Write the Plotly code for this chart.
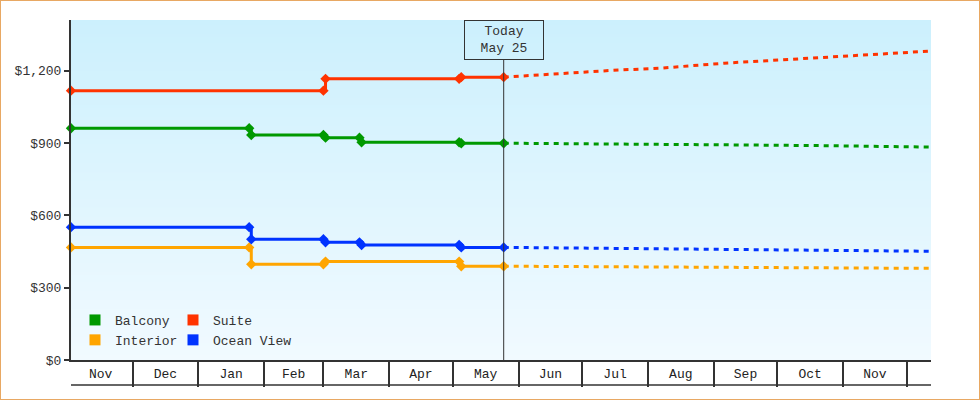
import base64
import struct
import zlib
from datetime import datetime

import plotly.graph_objects as go

# ---------------- data ----------------
series_names = ["Balcony", "Suite", "Interior", "Ocean View"]
series_colors = ["#009900", "#ff3300", "#ffa500", "#0033ff"]

balcony_dates = ["2024-11-02", "2025-01-25", "2025-01-26", "2025-03-01", "2025-03-02",
                 "2025-03-18", "2025-03-19", "2025-05-04", "2025-05-05", "2025-05-25"]
balcony_prices = [961, 961, 933, 933, 922, 922, 903, 903, 899, 899]

suite_dates = ["2024-11-02", "2025-03-01", "2025-03-02", "2025-05-04", "2025-05-05", "2025-05-25"]
suite_prices = [1117, 1117, 1166, 1166, 1173, 1173]

interior_dates = ["2024-11-02", "2025-01-25", "2025-01-26", "2025-03-01", "2025-03-02",
                  "2025-05-04", "2025-05-05", "2025-05-25"]
interior_prices = [467, 467, 397, 397, 408, 408, 389, 389]

ocean_dates = ["2024-11-02", "2025-01-25", "2025-01-26", "2025-03-01", "2025-03-02",
               "2025-03-18", "2025-03-19", "2025-05-04", "2025-05-05", "2025-05-25"]
ocean_prices = [551, 551, 501, 501, 488, 488, 477, 477, 467, 467]

forecast_dates = ["2025-05-25", "2025-06-19", "2025-07-15", "2025-08-08", "2025-09-06",
                  "2025-09-26", "2025-10-22", "2025-11-16", "2025-12-12"]
balcony_forecast = [899, 898, 896, 894, 892, 891, 889, 887, 883]
suite_forecast = [1173, 1187, 1201, 1211, 1231, 1241, 1255, 1266, 1281]
interior_forecast = [389, 388, 386, 385, 384, 383, 382, 381, 380]
ocean_forecast = [467, 465, 462, 460, 458, 456, 455, 453, 451]

today = "2025-05-25"
x_range = ["2024-11-02", "2025-12-12 11:00"]
y_tick_step = 300
y_max = 1410

history = [
    (balcony_dates, balcony_prices, balcony_forecast),
    (suite_dates, suite_prices, suite_forecast),
    (interior_dates, interior_prices, interior_forecast),
    (ocean_dates, ocean_prices, ocean_forecast),
]
legend_of = {"Balcony": "legend", "Interior": "legend", "Suite": "legend2", "Ocean View": "legend2"}

# ---------------- geometry / style ----------------
W, H = 980, 400
ML, MR, MT, MB = 71, 49, 20, 40
PW, PH = W - ML - MR, H - MT - MB
FONT = "Liberation Mono"
INK = "#333333"


def gradient_png(top, bottom, h, w=4):
    raw = b""
    for i in range(h):
        t = i / (h - 1)
        px = bytes(round(a + (b - a) * t) for a, b in zip(top, bottom))
        raw += b"\x00" + px * w

    def chunk(tag, data):
        return struct.pack(">I", len(data)) + tag + data + struct.pack(">I", zlib.crc32(tag + data) & 0xFFFFFFFF)

    png = b"\x89PNG\r\n\x1a\n"
    png += chunk(b"IHDR", struct.pack(">IIBBBBB", w, h, 8, 2, 0, 0, 0))
    png += chunk(b"IDAT", zlib.compress(raw, 9))
    png += chunk(b"IEND", b"")
    return "data:image/png;base64," + base64.b64encode(png).decode()


fig = go.Figure()

for name, color, (d, p, fc) in zip(series_names, series_colors, history):
    fig.add_trace(go.Scatter(
        x=d, y=p, mode="lines+markers", line=dict(color=color, width=3, shape="hv"),
        marker=dict(symbol="diamond", size=8, color=color),
        name=name, legendgroup=name, showlegend=False, cliponaxis=False,
        hovertemplate="%{x|%b %d}: $%{y:,}<extra>" + name + "</extra>",
    ))
    fig.add_trace(go.Scatter(
        x=forecast_dates, y=fc, mode="lines",
        line=dict(color=color, width=3, dash="5px,5px"),
        name=name + " forecast", legendgroup=name, showlegend=False,
        hovertemplate="%{x|%b %d}: $%{y:,}<extra>" + name + " (forecast)</extra>",
    ))

# legend entries (square swatches), laid out in two columns
for name in ["Balcony", "Interior", "Suite", "Ocean View"]:
    color = series_colors[series_names.index(name)]
    fig.add_trace(go.Scatter(
        x=[None], y=[None], mode="markers", name=name, legendgroup=name,
        marker=dict(symbol="square", size=11, color=color, line=dict(width=0)),
        legend=legend_of[name], showlegend=True,
    ))

td = datetime.strptime(today, "%Y-%m-%d")
box_h = 40

fig.add_shape(type="line", xref="x", yref="paper", x0=today, x1=today,
              y0=0, y1=1 - box_h / PH, line=dict(color=INK, width=1))
fig.add_annotation(x=today, xref="x", y=1, yref="paper", yanchor="top",
                   text=f"Today<br>{td:%b} {td.day}", showarrow=False,
                   width=76, height=box_h - 4, borderpad=1, borderwidth=1,
                   bordercolor=INK, font=dict(family=FONT, size=13, color=INK))

# bottom edge of the month strip
fig.add_shape(type="line", xref="paper", yref="paper", x0=0, x1=1,
              y0=-25 / PH, y1=-25 / PH, line=dict(color=INK, width=1.5))
# outer border of the figure
fig.add_shape(type="rect", xref="paper", yref="paper",
              x0=-ML / PW, x1=1 + MR / PW, y0=-MB / PH, y1=1 + MT / PH,
              line=dict(color="#e8a863", width=2), layer="above")

fig.add_layout_image(dict(source=gradient_png((204, 240, 253), (241, 250, 255), PH),
                          xref="paper", yref="paper", x=0, y=1, sizex=1, sizey=1,
                          sizing="stretch", layer="below"))

legend_common = dict(bgcolor="rgba(0,0,0,0)", borderwidth=0, orientation="v",
                     font=dict(family=FONT, size=13, color=INK),
                     xanchor="left", yanchor="top", tracegroupgap=0, itemclick="toggleothers")
fig.update_layout(
    width=W, height=H,
    margin=dict(l=ML, r=MR, t=MT, b=MB, pad=0),
    paper_bgcolor="white", plot_bgcolor="rgba(0,0,0,0)",
    font=dict(family=FONT, size=13, color=INK),
    legend=dict(x=(95 - 20 - ML) / PW, y=(H - MB - 305) / PH, **legend_common),
    legend2=dict(x=(193 - 20 - ML) / PW, y=(H - MB - 305) / PH, **legend_common),
    xaxis=dict(
        type="date", range=x_range, dtick="M1", tick0="2024-12-01", tickformat="%b",
        ticklabelmode="period", ticks="outside", ticklen=25, tickwidth=1.5, tickcolor=INK,
        ticklabelstandoff=-24, showgrid=False, zeroline=False,
        showline=True, linecolor=INK, linewidth=1.5,
        tickfont=dict(family=FONT, size=13, color="#222222"),
    ),
    yaxis=dict(
        range=[0, y_max], tickmode="linear", tick0=0, dtick=y_tick_step,
        tickprefix="$", tickformat=",", showtickprefix="all",
        ticks="outside", ticklen=5, tickwidth=2, tickcolor=INK,
        showgrid=False, zeroline=False, showline=True, linecolor=INK, linewidth=2,
        tickfont=dict(family=FONT, size=13, color=INK),
    ),
    hovermode="closest",
)

fig.write_html("out.html", config={"displayModeBar": False},
               post_script="document.body.style.margin='0';")
